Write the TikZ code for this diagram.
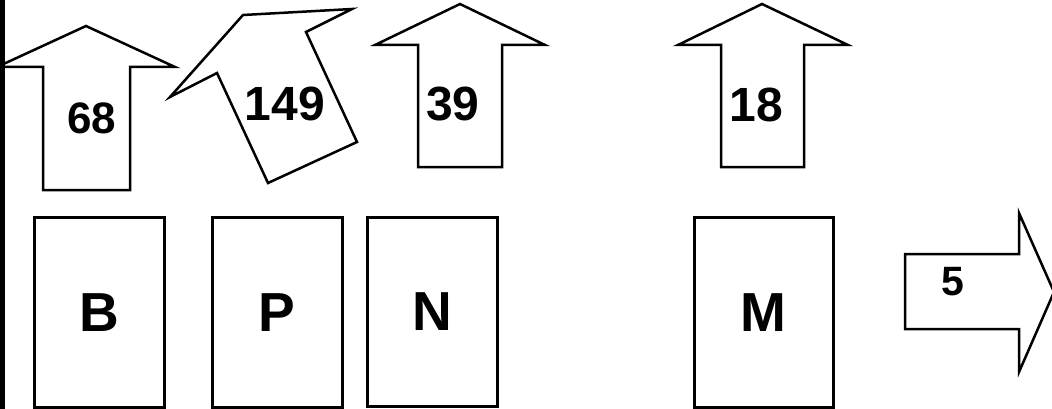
\documentclass[tikz,border=0pt]{standalone}
\usepackage{fontspec}
\setmainfont{Liberation Sans}
\begin{document}
\begin{tikzpicture}[x=1pt,y=-1pt,
  shape line/.style={draw=black,line width=2.5pt,fill=white,line join=miter},
  boxnode/.style={draw=black,line width=2.5pt,fill=white,minimum width=130pt,minimum height=190pt,inner sep=0pt,anchor=north west},
  numlabel/.style={font=\fontsize{48}{48}\selectfont\bfseries,inner sep=0pt,anchor=center},
  letlabel/.style={font=\fontsize{55}{55}\selectfont\bfseries,inner sep=0pt,anchor=center}]
\useasboundingbox (0,0) rectangle (1052,409);
\clip (0,0) rectangle (1052,409);
\fill[white] (0,0) rectangle (1052,409);
% upward arrows
\draw[shape line] (86,26) -- (175,67) -- (130,67) -- (130,190) -- (43,190) -- (43,67) -- (-3,67) -- cycle;
\draw[shape line] (243,15) -- (352,9) -- (306,32) -- (357,142) -- (268,183) -- (217,73) -- (170,97) -- cycle;
\draw[shape line] (460,4) -- (545,45) -- (502,45) -- (502,167) -- (418,167) -- (418,45) -- (375,45) -- cycle;
\draw[shape line] (762,4) -- (848,45) -- (804,45) -- (804,167) -- (721,167) -- (721,45) -- (678,45) -- cycle;
% right arrow
\draw[shape line] (905,254) -- (1019,254) -- (1019,213) -- (1054,292) -- (1019,372) -- (1019,329) -- (905,329) -- cycle;
% labels on arrows
\node[numlabel,font=\fontsize{44}{44}\selectfont\bfseries] (n68) at (92,118) {68};
\node[numlabel] (n149) at (285,104) {149};
\node[numlabel] (n39) at (453,104.5) {39};
\node[numlabel] (n18) at (756,104.5) {18};
\node[numlabel,font=\fontsize{41}{41}\selectfont\bfseries] (n5) at (953,282) {5};
% boxes
\node[boxnode] (B) at (33,216) {};
\node[boxnode] (P) at (211,216) {};
\node[boxnode,minimum height=189pt] (N) at (366,216) {};
\node[boxnode,minimum width=139pt] (M) at (693,216) {};
\node[letlabel] (tB) at (B.center) {B};
\node[letlabel] (tP) at (P.center) {P};
\node[letlabel] (tN) at (N.center) {N};
\node[letlabel] (tM) at (M.center) {M};
% left black bar
\fill[black] (0,0) rectangle (4.5,409);
\end{tikzpicture}
\end{document}
